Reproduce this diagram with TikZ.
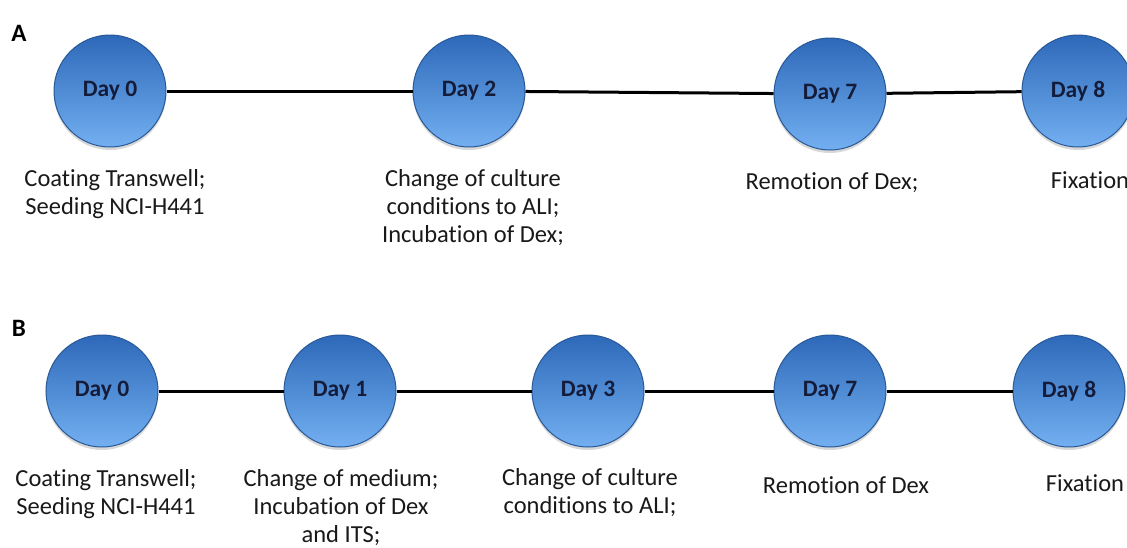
\documentclass[tikz,border=0pt]{standalone}
\usepackage{fontspec}
\setmainfont{Carlito}[Ligatures=NoCommon]
\usetikzlibrary{shadows}
\definecolor{dayrim}{RGB}{40,88,150}
\definecolor{daytop}{RGB}{45,105,185}
\definecolor{daybot}{RGB}{115,175,240}
\definecolor{daytext}{RGB}{20,28,58}
\definecolor{labeltext}{RGB}{25,25,25}
\tikzset{
  daynode/.style={circle, minimum size=112pt, inner sep=0pt, draw=dayrim, line width=1pt,
    top color=daytop, bottom color=daybot,
    drop shadow={shadow xshift=0pt, shadow yshift=-3pt, opacity=0.25, fill=black!60},
    text=daytext, font=\fontsize{23.5}{28}\selectfont\bfseries},
  desc/.style={align=center, text=labeltext, font=\fontsize{24.5}{28}\selectfont, inner sep=0pt},
  panel/.style={font=\fontsize{25}{28}\selectfont\bfseries, text=black, inner sep=0pt},
  link/.style={line width=3pt, black}
}
\begin{document}
\begin{tikzpicture}[x=1pt,y=-1pt]
\useasboundingbox (0,0) rectangle (1127,547);
\clip (0,0) rectangle (1127,547);
\fill[white] (0,0) rectangle (1127,547);

% panel A
\node[panel] (pa) at (19,33) {A};
\node[daynode] (a0) at (110,91) {Day 0};
\node[daynode] (a2) at (469,91) {Day 2};
\node[daynode] (a7) at (830,94) {Day 7};
\node[daynode] (a8) at (1078,91) {Day 8};
\draw[link] (a0) -- (a2);
\draw[link] (a2) -- (a7);
\draw[link] (a7) -- (a8);
\node[desc] (ta0) at (115,194) {Coating Transwell;\\Seeding NCI-H441};
\node[desc] (ta2) at (473,208) {Change of culture\\conditions to ALI;\\Incubation of Dex;};
\node[desc] (ta7) at (832,183) {Remotion of Dex;};
\node[desc] (ta8) at (1090,180) {Fixation};

% panel B
\node[panel] (pb) at (19,328) {B};
\node[daynode] (b0) at (102,391) {Day 0};
\node[daynode] (b1) at (340,391) {Day 1};
\node[daynode] (b3) at (588,391) {Day 3};
\node[daynode] (b7) at (830,391) {Day 7};
\node[daynode] (b8) at (1069,391) {Day 8};
\draw[link] (b0) -- (b1);
\draw[link] (b1) -- (b3);
\draw[link] (b3) -- (b7);
\draw[link] (b7) -- (b8);
\node[desc] (tb0) at (106,494) {Coating Transwell;\\Seeding NCI-H441};
\node[desc] (tb1) at (341,508) {Change of medium;\\Incubation of Dex\\and ITS;};
\node[desc] (tb3) at (590,493) {Change of culture\\conditions to ALI;};
\node[desc] (tb7) at (846,485) {Remotion of Dex};
\node[desc] (tb8) at (1085,483) {Fixation};
\end{tikzpicture}
\end{document}
